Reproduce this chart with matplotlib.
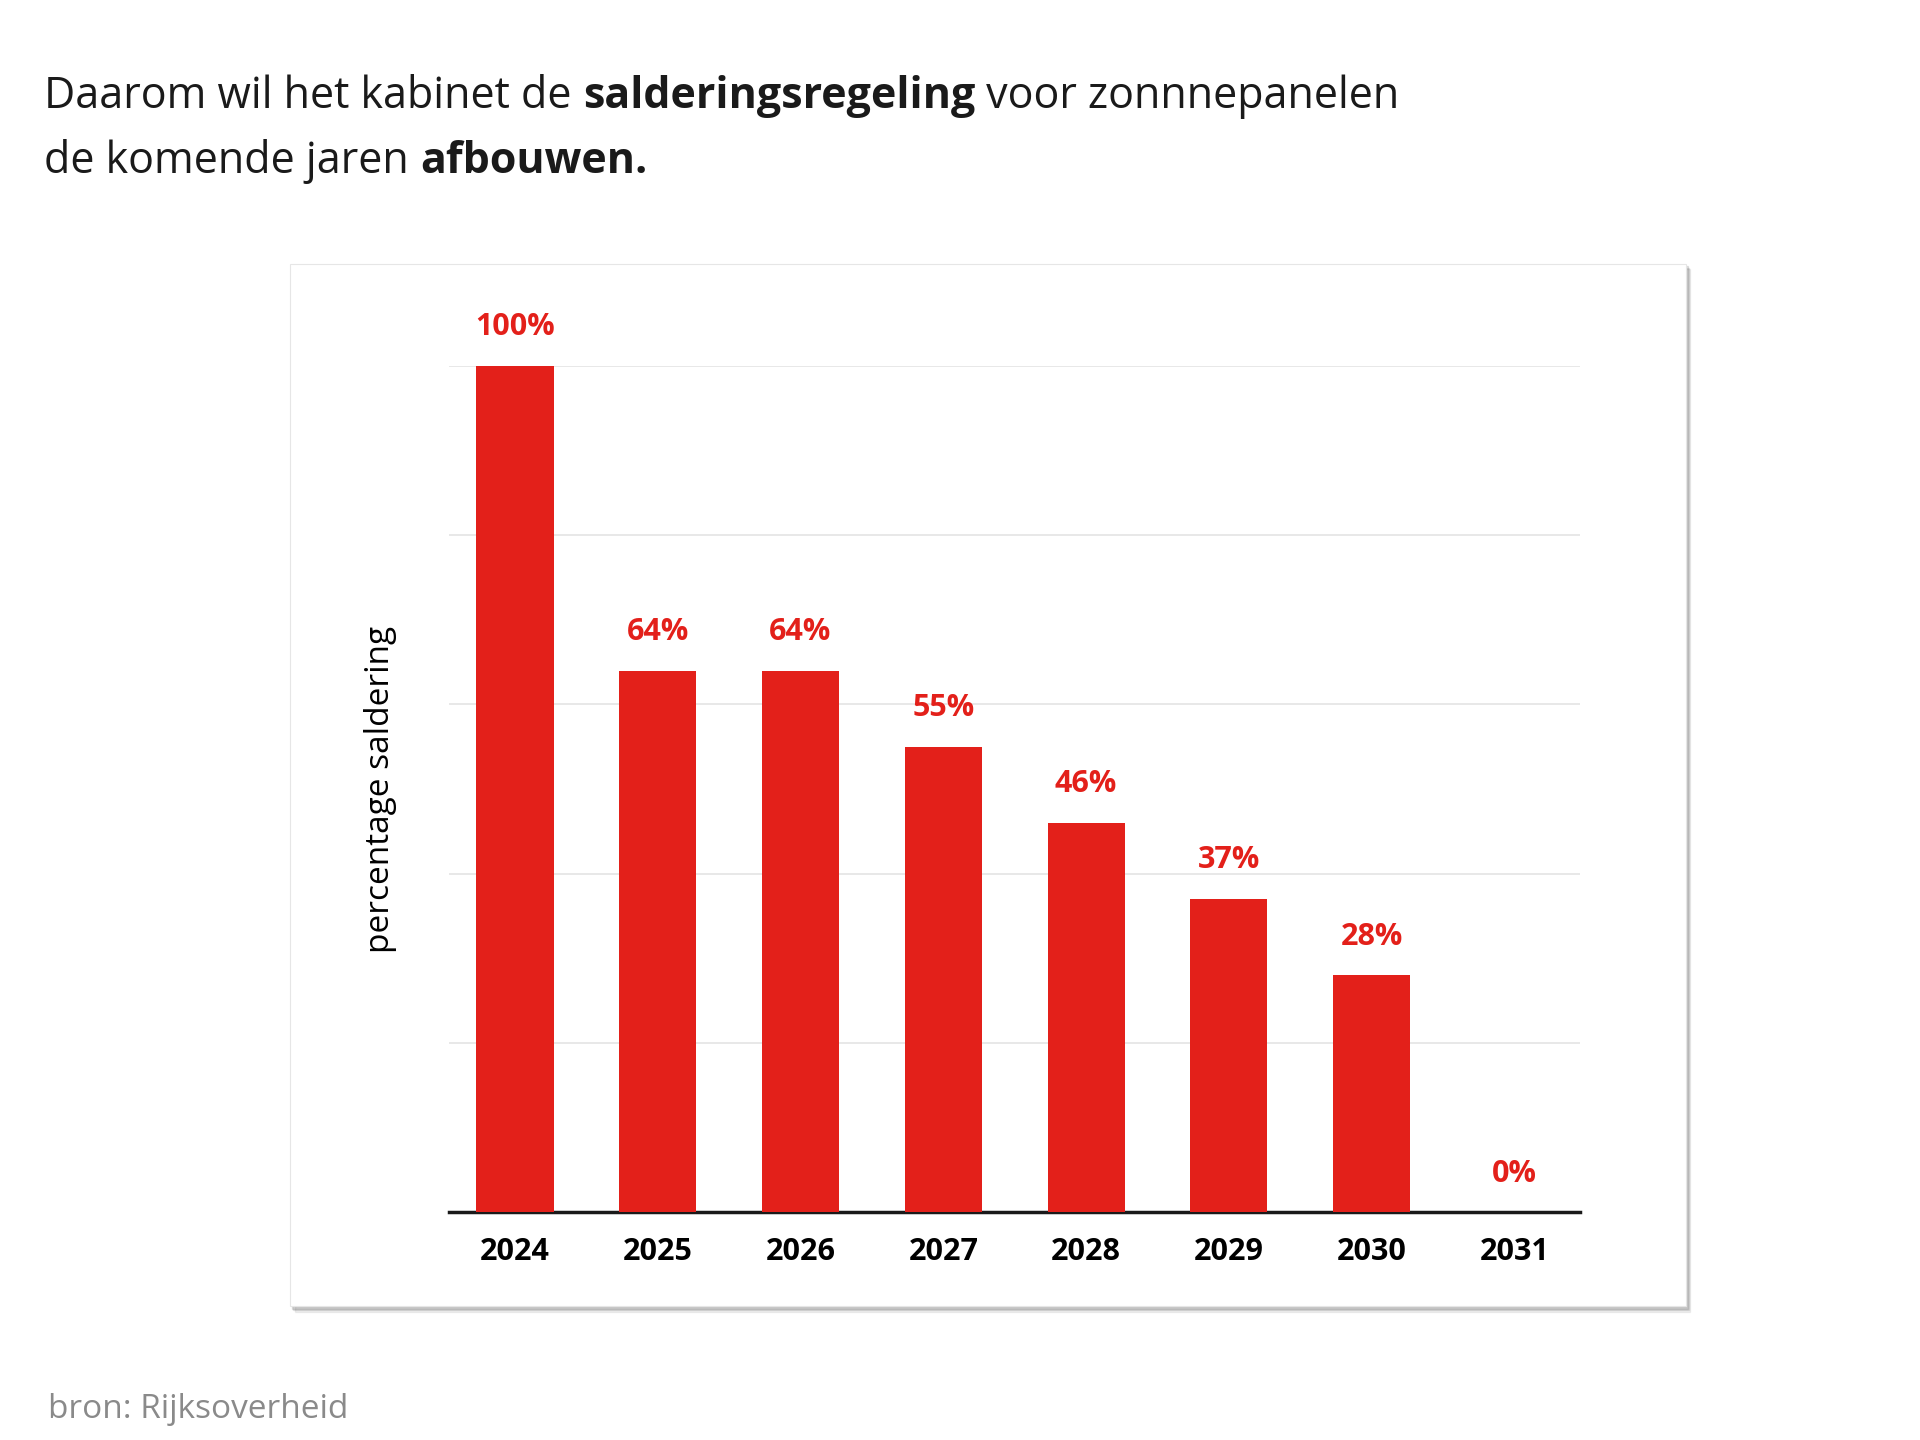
import matplotlib
matplotlib.use("Agg")
import matplotlib.pyplot as plt
import matplotlib.patches as patches

years = ["2024", "2025", "2026", "2027", "2028", "2029", "2030", "2031"]
values = [100, 64, 64, 55, 46, 37, 28, 0]
labels = ["100%", "64%", "64%", "55%", "46%", "37%", "28%", "0%"]
red = "#e3201a"

plt.rcParams['font.family'] = ['Open Sans', 'DejaVu Sans']
fig = plt.figure(figsize=(19.2, 14.4), dpi=100)

# card with soft shadow
for i, a in enumerate([0.06, 0.08, 0.1]):
    d = 0.004 - i * 0.001
    fig.patches.append(patches.Rectangle((0.151 + d * 0.6, 0.093 - d), 0.727, 0.724,
                                         transform=fig.transFigure, color="#000000", alpha=a, zorder=0))
fig.patches.append(patches.Rectangle((0.151, 0.093), 0.727, 0.724, transform=fig.transFigure,
                                     facecolor="white", edgecolor="#e6e6e6", lw=0.8, zorder=1))

ax = fig.add_axes([0.234, 0.158, 0.589, 0.588])
ax.set_zorder(2)
ax.patch.set_alpha(0)
x = range(len(years))
ax.bar(x, values, width=0.54, color=red, zorder=3)
for xi, v, lab in zip(x, values, labels):
    ax.text(xi, v + 2.8, lab, ha="center", va="bottom", color=red, fontsize=22, fontweight="bold", clip_on=False)
ax.set_xlim(-0.46, 7.46)
ax.set_ylim(0, 100)
ax.set_yticks([20, 40, 60, 80, 100])
ax.yaxis.grid(True, color="#e4e4e4", lw=1.2)
ax.set_axisbelow(True)
ax.tick_params(axis="y", length=0, labelleft=False)
ax.set_xticks(list(x))
ax.set_xticklabels(years, fontsize=22, fontweight="bold")
ax.tick_params(axis="x", length=0, pad=18)
for s in ["top", "right", "left"]:
    ax.spines[s].set_visible(False)
ax.spines["bottom"].set_linewidth(2.5)
ax.spines["bottom"].set_color("#1a1a1a")
ax.set_ylabel("percentage saldering", fontsize=24, labelpad=38)

# title with bold parts
r = fig.canvas.get_renderer()
lines = [[("Daarom wil het kabinet de ", "normal"), ("salderingsregeling", "bold"), (" voor zonnnepanelen", "normal")],
         [("de komende jaren ", "normal"), ("afbouwen.", "bold")]]
for y, parts in zip([0.933, 0.888], lines):
    xpos = 0.023
    for txt, w in parts:
        t = fig.text(xpos, y, txt, fontsize=31, fontweight=w, color="#1a1a1a", va="center")
        bb = t.get_window_extent(renderer=r)
        xpos += bb.width / fig.bbox.width
fig.text(0.025, 0.021, "bron: Rijksoverheid", fontsize=24, color="#8a8a8a", va="center")

fig.savefig("out.png", dpi=100, facecolor="white")
